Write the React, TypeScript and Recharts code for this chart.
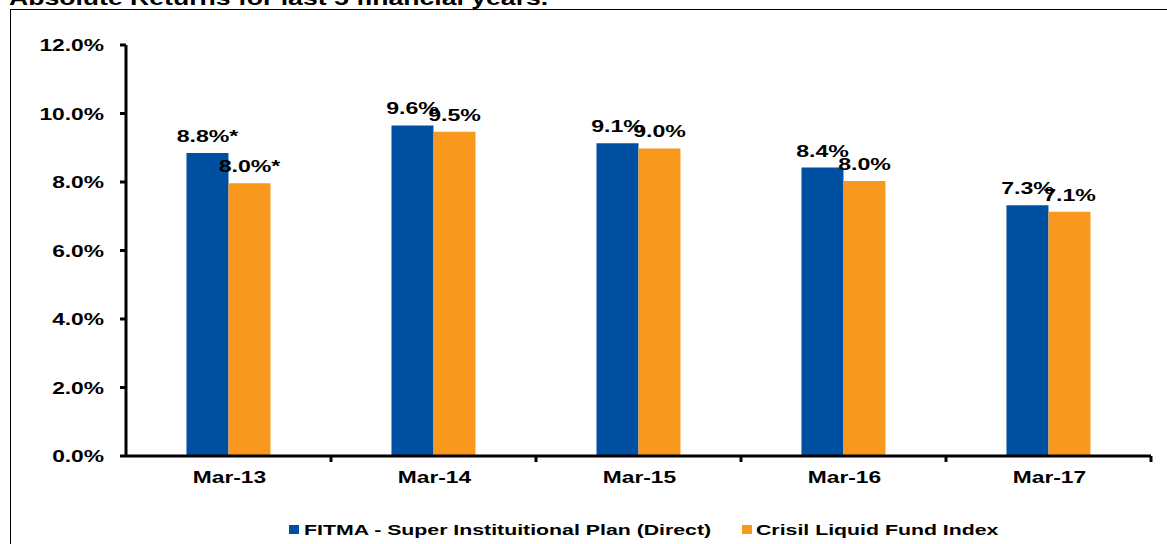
import React from 'react';
import { BarChart, Bar, XAxis, YAxis, Legend, LabelList } from 'recharts';

const CATEGORIES = ['Mar-13', 'Mar-14', 'Mar-15', 'Mar-16', 'Mar-17'];
const FITMA_VALUES = [8.85, 9.65, 9.13, 8.42, 7.32];
const CRISIL_VALUES = [7.96, 9.47, 8.98, 8.03, 7.13];
const FITMA_LABELS = ['8.8%*', '9.6%', '9.1%', '8.4%', '7.3%'];
const CRISIL_LABELS = ['8.0%*', '9.5%', '9.0%', '8.0%', '7.1%'];
const Y_TICKS = [0, 2, 4, 6, 8, 10, 12];
const SERIES_NAMES = ['FITMA - Super Instituitional Plan (Direct)', 'Crisil Liquid Fund Index'];
const TITLE = 'Absolute Returns for last 5 financial years.';

const BLUE = '#0050A2';
const ORANGE = '#F8981D';
const FONT = '"Liberation Sans", Arial, Helvetica, sans-serif';
const SX = 1.34;

const data = CATEGORIES.map((c, i) => ({
  cat: c,
  fitma: FITMA_VALUES[i],
  crisil: CRISIL_VALUES[i],
}));

const STxt = ({ x, y, anchor, size, sx, children }: any) => (
  <text transform={`translate(${x},${y}) scale(${sx},1)`} textAnchor={anchor} fill="#000"
    style={{ fontFamily: FONT, fontSize: size, fontWeight: 700 }}>
    {children}
  </text>
);

const YTick = (props: any) => {
  const { x, y, payload } = props;
  return <STxt x={x} y={y + 6} anchor="end" size={17} sx={SX}>{payload.value.toFixed(1) + '%'}</STxt>;
};

const XTick = (props: any) => {
  const { x, y, payload, width } = props;
  const band = (width || 1025) / CATEGORIES.length;
  return (
    <g>
      <line x1={x + band / 2} x2={x + band / 2} y1={y} y2={y + 6} stroke="#000" strokeWidth={3} />
      <STxt x={x + 1} y={y + 27} anchor="middle" size={17} sx={SX}>{payload.value}</STxt>
    </g>
  );
};

const makeLabel = (labels: string[]) => (props: any) => {
  const { x, y, width, index } = props;
  return <STxt x={x + width / 2} y={y - 11} anchor="middle" size={17} sx={1.36}>{labels[index]}</STxt>;
};

const LegendContent = () => (
  <svg width={1167} height={24} style={{ display: 'block' }}>
    <rect x={289} y={7} width={10} height={9} fill={BLUE} />
    <STxt x={304} y={17} anchor="start" size={15} sx={1.42}>{SERIES_NAMES[0]}</STxt>
    <rect x={742} y={7} width={10} height={9} fill={ORANGE} />
    <STxt x={756} y={17} anchor="start" size={15} sx={1.42}>{SERIES_NAMES[1]}</STxt>
  </svg>
);

export default function App() {
  return (
    <div style={{ position: 'absolute', left: 0, top: 0, width: 1167, height: 544, overflow: 'hidden', background: '#fff' }}>
      <svg style={{ position: 'absolute', left: 0, top: 0 }} width={1167} height={20}>
        <STxt x={9} y={4.5} anchor="start" size={20} sx={1.33}>{TITLE}</STxt>
      </svg>
      <div style={{ position: 'absolute', left: 10, top: 9, width: 1200, height: 600, border: '1.5px solid #000', boxSizing: 'border-box' }} />
      <div style={{ position: 'absolute', left: 0, top: 0 }}>
        <BarChart width={1167} height={544} data={data}
          margin={{ top: 45, right: 16, bottom: 34, left: 0 }}
          barCategoryGap="29.5%" barGap={0}>
          <YAxis type="number" domain={[0, 12]} ticks={Y_TICKS} width={126}
            axisLine={{ stroke: '#000', strokeWidth: 3 }}
            tickLine={{ stroke: '#000', strokeWidth: 3 }}
            tickSize={6} tickMargin={16} tick={<YTick />} interval={0} />
          <XAxis dataKey="cat" height={30}
            axisLine={{ stroke: '#000', strokeWidth: 3 }}
            tickLine={false} tickSize={0} tickMargin={0}
            tick={<XTick />} interval={0} />
          <Legend verticalAlign="bottom" content={<LegendContent />}
            wrapperStyle={{ left: 0, top: 518, width: 1167, height: 24 }} />
          <Bar dataKey="fitma" name={SERIES_NAMES[0]} fill={BLUE} isAnimationActive={false}>
            <LabelList dataKey="fitma" content={makeLabel(FITMA_LABELS)} />
          </Bar>
          <Bar dataKey="crisil" name={SERIES_NAMES[1]} fill={ORANGE} isAnimationActive={false}>
            <LabelList dataKey="crisil" content={makeLabel(CRISIL_LABELS)} />
          </Bar>
        </BarChart>
      </div>
    </div>
  );
}
